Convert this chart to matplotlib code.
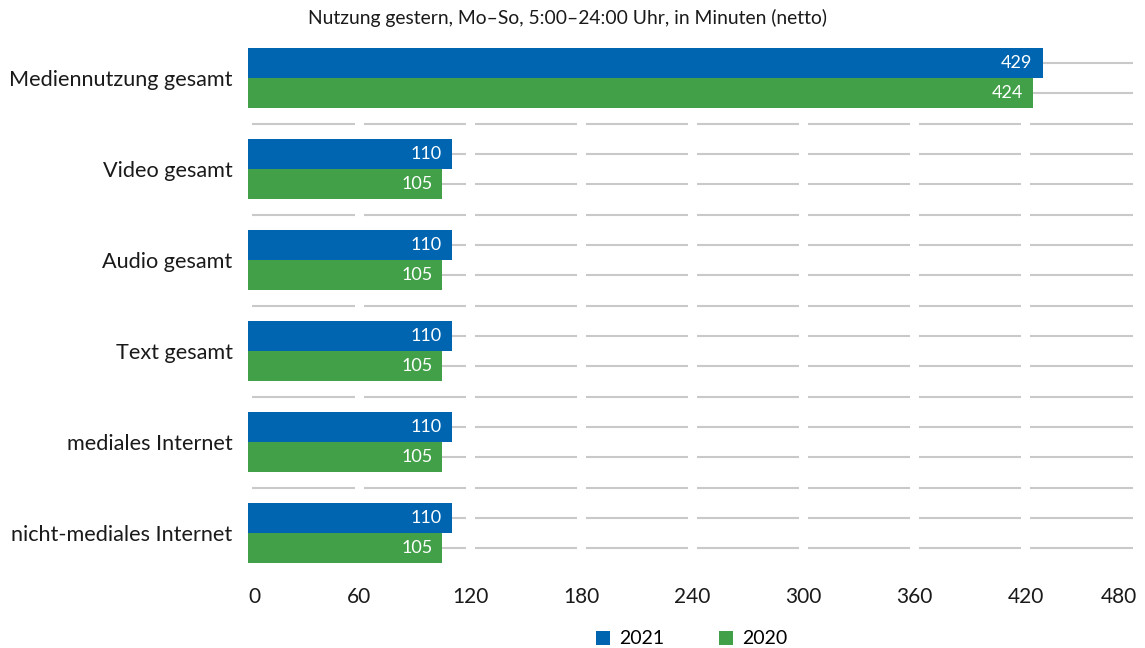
import numpy as np
import matplotlib
matplotlib.use("Agg")
import matplotlib.pyplot as plt
from matplotlib.patches import Patch

plt.rcParams['font.family'] = ['Lato', 'DejaVu Sans']

# Nutzungsdauer in Minuten je Kategorie
categories = ['Mediennutzung gesamt', 'Video gesamt', 'Audio gesamt',
              'Text gesamt', 'mediales Internet', 'nicht-mediales Internet']
values_2021 = [429, 110, 110, 110, 110, 110]
values_2020 = [424, 105, 105, 105, 105, 105]
series_labels = ['2021', '2020']
xticks = [0, 60, 120, 180, 240, 300, 360, 420, 480]
title = 'Nutzung gestern, Mo–So, 5:00–24:00 Uhr, in Minuten (netto)'

blue = '#0065b1'
green = '#42a048'
grid_color = '#c9c9c9'

W, H = 1145, 648
fig = plt.figure(figsize=(W / 100, H / 100), dpi=100)
ax = fig.add_axes([248 / W, 1 - 578.5 / H, (1137 - 248) / W, (578.5 - 32.5) / H])

n = len(categories)
pos = np.arange(n)
bh = 1 / 3

# segmented horizontal grid: one line per bar slot plus one between groups
grid_y = list(pos - bh / 2) + list(pos + bh / 2) + list(pos[:-1] + 0.5)
gap = 2.4
for y in grid_y:
    for t0, t1 in zip(xticks[:-1], xticks[1:]):
        ax.hlines(y, t0 + gap, t1 - gap, color=grid_color, lw=1.5, zorder=1)

b1 = ax.barh(pos - bh / 2, values_2021, height=bh, color=blue, zorder=2)
b2 = ax.barh(pos + bh / 2, values_2020, height=bh, color=green, zorder=2)

for bars, vals in ((b1, values_2021), (b2, values_2020)):
    for bar, v in zip(bars, vals):
        ax.text(v - 5.5, bar.get_y() + bar.get_height() / 2, f'{v}',
                ha='right', va='center', color='white', fontsize=13, zorder=3)

ax.set_xlim(0, 480)
ax.set_ylim(n - 0.5, -0.5)
ax.set_yticks(pos)
ax.set_yticklabels(categories, fontsize=15.6, color='#1a1a1a')
ax.set_xticks(xticks)
ax.set_xticklabels([str(t) for t in xticks], fontsize=15, color='#1a1a1a')
labels = ax.get_xticklabels()
labels[0].set_horizontalalignment('left')
labels[-1].set_horizontalalignment('right')
ax.tick_params(axis='both', length=0)
ax.tick_params(axis='x', pad=6)
ax.tick_params(axis='y', pad=11)
for s in ax.spines.values():
    s.set_visible(False)

fig.text(568 / W, 1 - 18 / H, title, ha='center', va='center', fontsize=13.9, color='#1a1a1a')

handles = [Patch(facecolor=blue), Patch(facecolor=green)]
fig.legend(handles, series_labels, loc='center', bbox_to_anchor=(692 / W, 1 - 639 / H),
           ncol=2, frameon=False, fontsize=14, handlelength=0.7, handleheight=0.7,
           handletextpad=0.5, columnspacing=2.8)

fig.savefig('out.png', dpi=100)
